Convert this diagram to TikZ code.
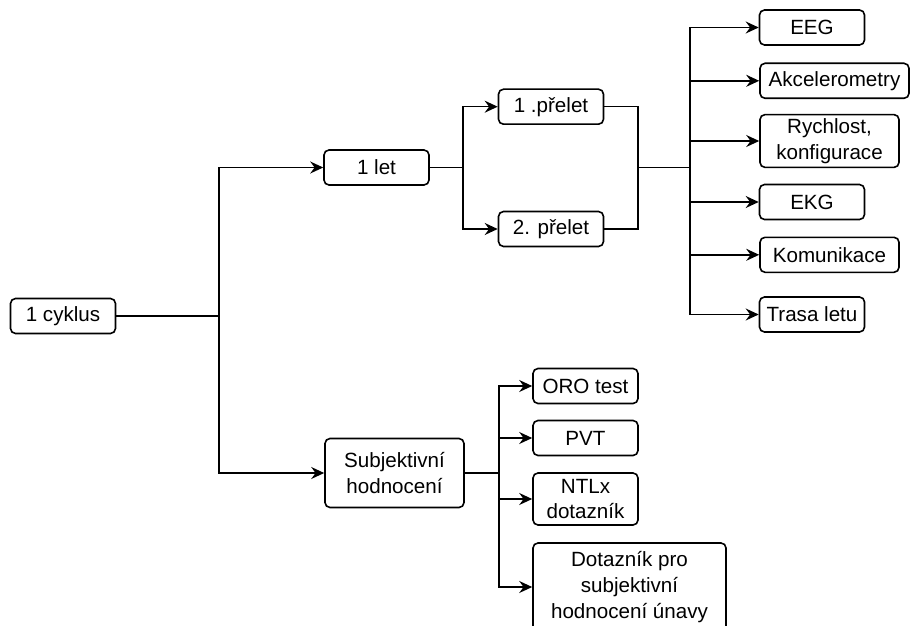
\documentclass[tikz,border=0pt]{standalone}
\usepackage{fontspec}
\setmainfont{Liberation Sans}
\usetikzlibrary{arrows.meta}

\begin{document}
\begin{tikzpicture}[x=0.5pt,y=-0.5pt,
    box/.style={draw, line width=0.8pt, rounded corners=2.5pt, align=center,
        minimum width=52.5pt, minimum height=17.5pt, inner sep=2pt,
        font=\fontsize{10.3}{12.8}\selectfont},
    link/.style={line width=0.8pt},
    arr/.style={link, -{Stealth[length=6.5pt,width=6pt,inset=2.2pt]}}]
    \useasboundingbox (0,0) rectangle (910,626);
    % flight branch
    \node[box] (cyklus) at (63,316) {1 cyklus};
    \node[box] (let) at (376.5,167.5) {1 let};
    \node[box] (prelet1) at (551,106.7) {1 .přelet};
    \node[box] (prelet2) at (551,229) {2. přelet};
    % measured signals
    \node[box] (eeg) at (812,27.5) {EEG};
    \node[box, minimum width=74.5pt] (akc) at (834.5,80.8) {Akcelerometry};
    \node[box, minimum width=69.5pt, minimum height=26pt] (rych) at (829.5,141) {Rychlost,\\konfigurace};
    \node[box] (ekg) at (812,202) {EKG};
    \node[box, minimum width=69.5pt] (kom) at (829.5,254.8) {Komunikace};
    \node[box] (trasa) at (812,314.5) {Trasa letu};
    % subjective branch
    \node[box, minimum width=69.5pt, minimum height=34.5pt] (subj) at (394.5,473) {Subjektivní\\hodnocení};
    \node[box] (oro) at (585.5,386) {ORO test};
    \node[box] (pvt) at (585.5,438) {PVT};
    \node[box, minimum height=26pt] (ntlx) at (585.5,499) {NTLx\\dotazník};
    \node[box, minimum width=96.5pt, minimum height=44pt] (unava) at (629.5,587) {Dotazník pro\\subjektivní\\hodnocení únavy};
    % junctions
    \coordinate (j1) at (219,316);
    \coordinate (j2) at (463,167.5);
    \coordinate (j3) at (638,167.5);
    \coordinate (j4) at (690,167.5);
    \coordinate (j5) at (499,473);
    % connectors
    \draw[link] (cyklus.east) -- (j1);
    \draw[arr] (j1) |- (let.west);
    \draw[arr] (j1) |- (subj.west);
    \draw[link] (let.east) -- (j2);
    \draw[arr] (j2) |- (prelet1.west);
    \draw[arr] (j2) |- (prelet2.west);
    \draw[link] (prelet1.east) -| (j3);
    \draw[link] (prelet2.east) -| (j3);
    \draw[link] (j3) -- (j4);
    \foreach \n in {eeg,akc,rych,ekg,kom,trasa}
        \draw[arr] (j4) |- (\n.west);
    \draw[link] (subj.east) -- (j5);
    \foreach \n in {oro,pvt,ntlx,unava}
        \draw[arr] (j5) |- (\n.west);
\end{tikzpicture}
\end{document}
